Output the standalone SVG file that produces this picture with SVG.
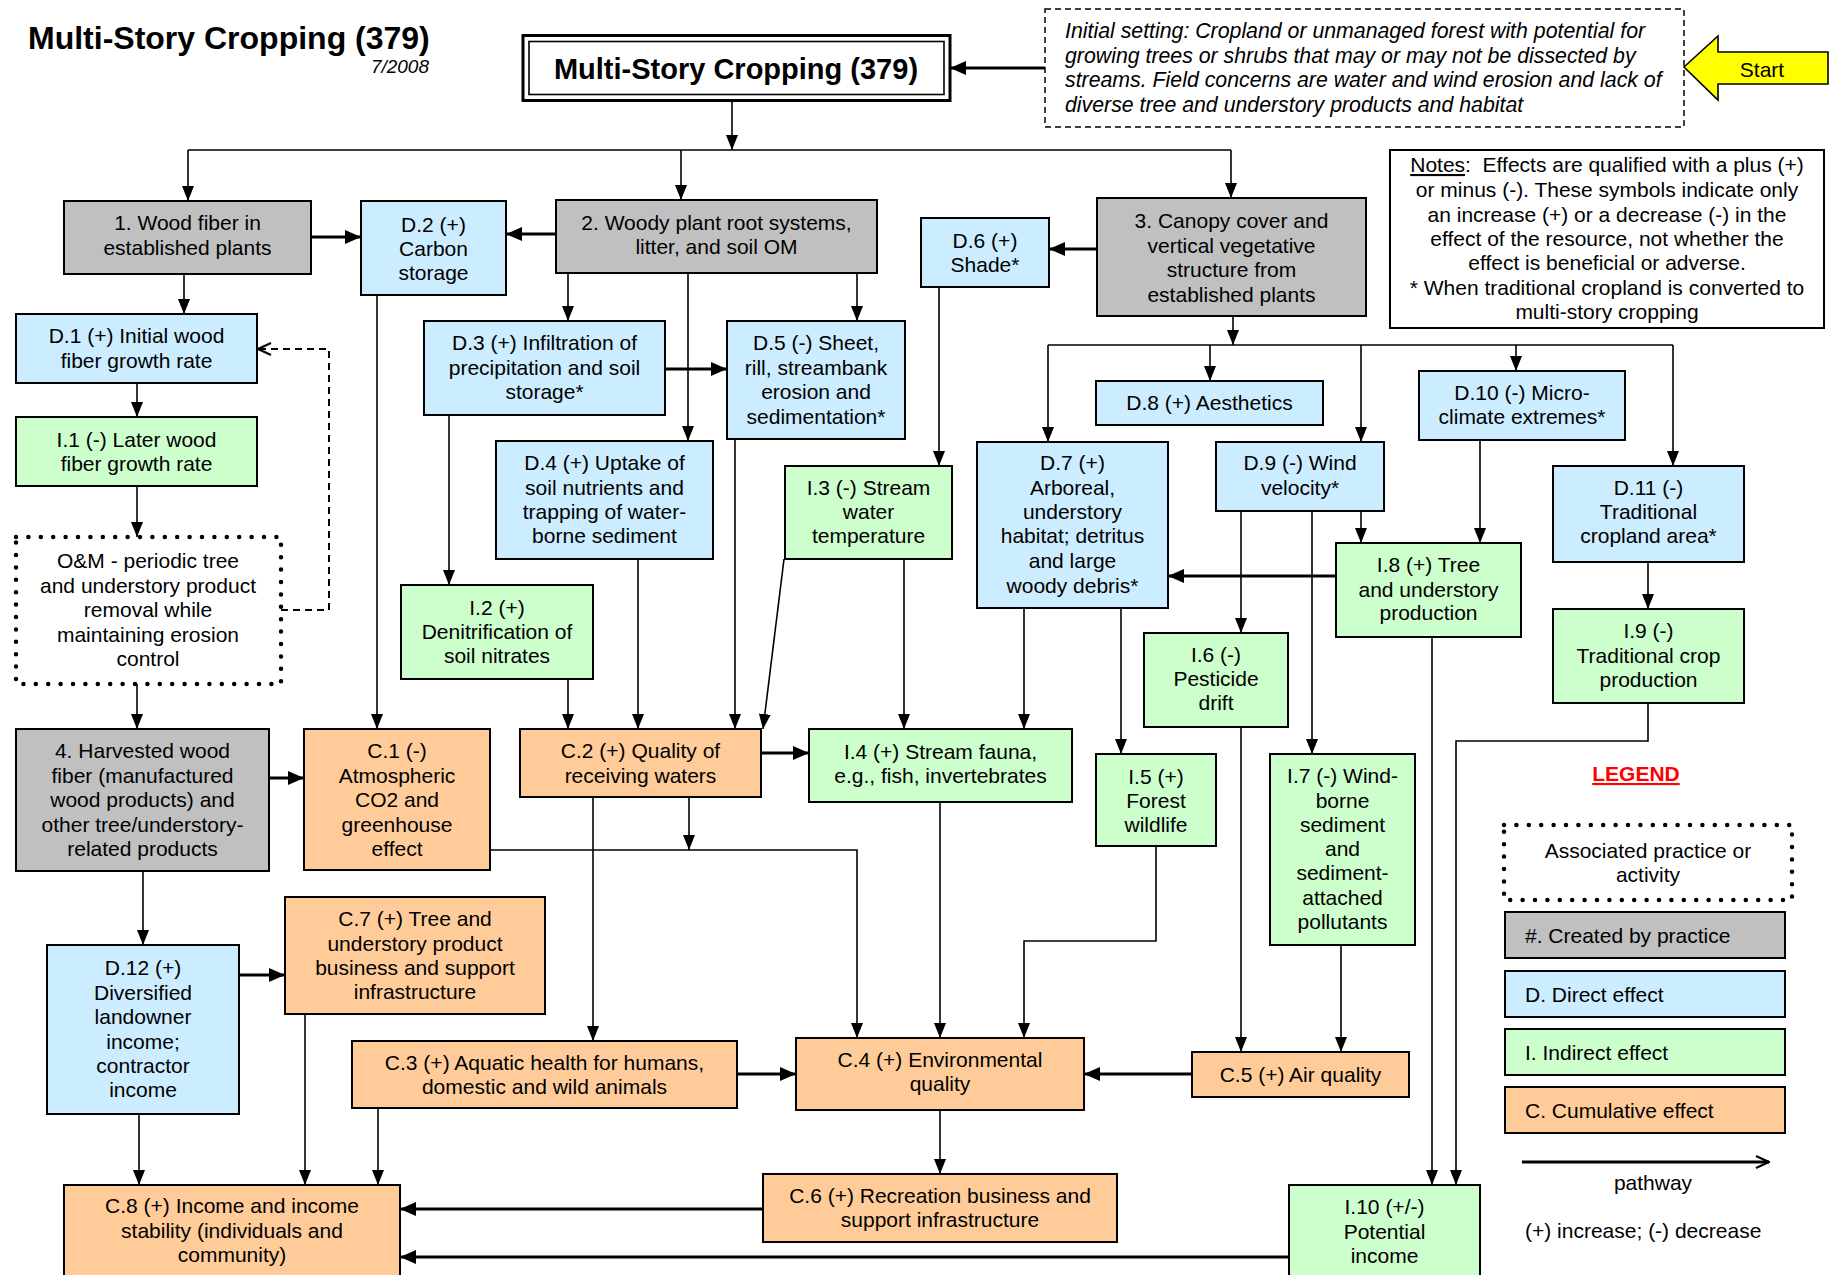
<svg xmlns="http://www.w3.org/2000/svg" width="1839" height="1275" viewBox="0 0 1839 1275">
<style>
text{font-family:"Liberation Sans",Arial,Helvetica,sans-serif;font-size:21px;fill:#000;text-anchor:middle}
.st{text-anchor:start}
.it{font-style:italic}
rect{stroke:#000;stroke-width:2}
.g{fill:#C0C0C0}.d{fill:#CCECFF}.i{fill:#CCFFCC}.c{fill:#FFCC99}.w{fill:#fff}
.dot{fill:#fff;stroke-width:4.5;stroke-dasharray:0 12.4;stroke-linecap:round}
#connectors path{fill:none;stroke:#000;stroke-width:1.6;marker-end:url(#ah)}
#connectors path.t{stroke-width:3.2;marker-end:url(#ahb)}
#connectors path.n{marker-end:none}
#connectors path.dash{stroke-width:2;stroke-dasharray:7 5;marker-end:url(#open)}
</style>
<defs>
<marker id="ah" markerUnits="userSpaceOnUse" viewBox="0 0 15 12" markerWidth="15" markerHeight="12" refX="15" refY="6" orient="auto"><path d="M0,0 L15,6 L0,12 z" fill="#000"/></marker>
<marker id="ahb" markerUnits="userSpaceOnUse" viewBox="0 0 16 14" markerWidth="16" markerHeight="14" refX="16" refY="7" orient="auto"><path d="M0,0 L16,7 L0,14 z" fill="#000"/></marker>
<marker id="open" markerUnits="userSpaceOnUse" viewBox="0 0 16 14" markerWidth="16" markerHeight="14" refX="15" refY="7" orient="auto"><path d="M2,1 L15,7 L2,13" fill="none" stroke="#000" stroke-width="2.2"/></marker>
</defs>
<rect x="0" y="0" width="1839" height="1275" style="fill:#fff;stroke:none"/>

<g id="title">
<text class="st" x="28" y="49" style="font-weight:bold;font-size:32px">Multi-Story Cropping (379)</text>
<text class="it" x="429" y="73" style="text-anchor:end;font-size:19px">7/2008</text>
</g>

<g id="connectors">
<path class="t" d="M1045,68 H950"/>
<path d="M732,101 V150"/>
<path class="n" d="M188,150 H1231"/>
<path d="M188,150 V201"/>
<path d="M681,150 V200"/>
<path d="M1231,150 V198"/>
<path class="t" d="M311,237 H361"/>
<path class="t" d="M556,234 H506"/>
<path class="t" d="M1097,249 H1049"/>
<path d="M184,274 V314"/>
<path d="M568,273 V321"/>
<path d="M857,273 V321"/>
<path d="M688,273 V441"/>
<path class="t" d="M665,369 H727"/>
<path d="M137,383 V417"/>
<path d="M137,486 V537"/>
<path class="dash" d="M281,610 H329 V349 H258"/>
<path d="M449,415 V585"/>
<path d="M939,287 V466"/>
<path d="M137,684 V729"/>
<path d="M377,295 V729"/>
<path class="t" d="M269,778 H304"/>
<path d="M568,679 V729"/>
<path d="M638,559 V729"/>
<path d="M735,439 V729"/>
<path d="M784,559 L763,729"/>
<path class="t" d="M761,753 H809"/>
<path d="M904,559 V729"/>
<path d="M1024,608 V729"/>
<path d="M1233,316 V345"/>
<path class="n" d="M1048,345 H1673"/>
<path d="M1048,345 V442"/>
<path d="M1210,345 V381"/>
<path d="M1361,345 V442"/>
<path d="M1516,345 V371"/>
<path d="M1673,345 V466"/>
<path d="M1361,511 V543"/>
<path d="M1480,440 V543"/>
<path class="t" d="M1336,576 H1168"/>
<path d="M1241,511 V633"/>
<path d="M1648,562 V609"/>
<path d="M1121,608 V754"/>
<path d="M1312,511 V754"/>
<path d="M940,802 V1038"/>
<path d="M1156,846 V941 H1024 V1038"/>
<path d="M490,850 H857 V1038"/>
<path d="M689,797 V850"/>
<path d="M1241,727 V1052"/>
<path d="M1341,945 V1052"/>
<path class="t" d="M1192,1074 H1084"/>
<path d="M143,871 V945"/>
<path class="t" d="M239,975 H285"/>
<path d="M593,797 V1041"/>
<path class="t" d="M737,1074 H796"/>
<path d="M139,1114 V1185"/>
<path d="M305,1014 V1185"/>
<path d="M378,1108 V1185"/>
<path d="M940,1110 V1174"/>
<path class="t" d="M763,1209 H400"/>
<path d="M1432,637 V1185"/>
<path d="M1648,703 V741 H1456 V1185"/>
<path class="t" d="M1289,1257 H400"/>
</g>

<g id="main">
<rect class="w" x="523" y="35.5" width="427" height="65" style="stroke-width:3"/>
<rect class="w" x="529" y="41.5" width="415" height="53" style="stroke-width:1.6"/>
<text x="736" y="79" style="font-weight:bold;font-size:29px">Multi-Story Cropping (379)</text>
</g>

<g id="setting">
<rect x="1045" y="9" width="639" height="118" style="fill:#fff;stroke-width:1.5;stroke-dasharray:6 4"/>
<text class="st it" x="1065" y="38" style="font-size:21.3px">Initial setting: Cropland or unmanaged forest with potential for</text>
<text class="st it" x="1065" y="62.5" style="font-size:21.3px">growing trees or shrubs that may or may not be dissected by</text>
<text class="st it" x="1065" y="87" style="font-size:21.3px">streams. Field concerns are water and wind erosion and lack of</text>
<text class="st it" x="1065" y="111.5" style="font-size:21.3px">diverse tree and understory products and habitat</text>
</g>

<g id="start">
<polygon points="1684,67 1718,36 1718,52 1828,52 1828,84 1718,84 1718,100" fill="#FFFF00" stroke="#000" stroke-width="1.6"/>
<text x="1762" y="77">Start</text>
</g>

<g id="notes">
<rect class="w" x="1390" y="150" width="434" height="178"/>
<text x="1607" y="172"><tspan text-decoration="underline">Notes</tspan>:&#160; Effects are qualified with a plus (+)</text>
<text x="1607" y="197">or minus (-). These symbols indicate only</text>
<text x="1607" y="222">an increase (+) or a decrease (-) in the</text>
<text x="1607" y="246">effect of the resource, not whether the</text>
<text x="1607" y="270">effect is beneficial or adverse.</text>
<text x="1607" y="295">* When traditional cropland is converted to</text>
<text x="1607" y="319">multi-story cropping</text>
</g>

<g id="n1"><rect class="g" x="64" y="201" width="247" height="73"/>
<text x="187.5" y="230">1. Wood fiber in</text><text x="187.5" y="255">established plants</text></g>

<g id="nD2"><rect class="d" x="361" y="201" width="145" height="94"/>
<text x="433.5" y="232">D.2 (+)</text><text x="433.5" y="256">Carbon</text><text x="433.5" y="280">storage</text></g>

<g id="n2"><rect class="g" x="556" y="200" width="321" height="73"/>
<text x="716.5" y="230">2. Woody plant root systems,</text><text x="716.5" y="254">litter, and soil OM</text></g>

<g id="n3"><rect class="g" x="1097" y="198" width="269" height="118"/>
<text x="1231.5" y="228">3. Canopy cover and</text><text x="1231.5" y="253">vertical vegetative</text><text x="1231.5" y="277">structure from</text><text x="1231.5" y="302">established plants</text></g>

<g id="nD6"><rect class="d" x="921" y="218" width="128" height="69"/>
<text x="985" y="248">D.6 (+)</text><text x="985" y="272">Shade*</text></g>

<g id="nD1"><rect class="d" x="16" y="314" width="241" height="69"/>
<text x="136.5" y="343">D.1 (+) Initial wood</text><text x="136.5" y="368">fiber growth rate</text></g>

<g id="nD3"><rect class="d" x="424" y="321" width="241" height="94"/>
<text x="544.5" y="350">D.3 (+) Infiltration of</text><text x="544.5" y="375">precipitation and soil</text><text x="544.5" y="399">storage*</text></g>

<g id="nD5"><rect class="d" x="727" y="321" width="178" height="118"/>
<text x="816" y="350">D.5 (-) Sheet,</text><text x="816" y="375">rill, streambank</text><text x="816" y="399">erosion and</text><text x="816" y="424">sedimentation*</text></g>

<g id="nD4"><rect class="d" x="496" y="441" width="217" height="118"/>
<text x="604.5" y="470">D.4 (+) Uptake of</text><text x="604.5" y="495">soil nutrients and</text><text x="604.5" y="519">trapping of water-</text><text x="604.5" y="543">borne sediment</text></g>

<g id="nI1"><rect class="i" x="16" y="417" width="241" height="69"/>
<text x="136.5" y="447">I.1 (-) Later wood</text><text x="136.5" y="471">fiber growth rate</text></g>

<g id="nOM"><rect class="dot" x="16" y="537" width="265" height="147"/>
<text x="148" y="568">O&amp;M - periodic tree</text><text x="148" y="593">and understory product</text><text x="148" y="617">removal while</text><text x="148" y="642">maintaining erosion</text><text x="148" y="666">control</text></g>

<g id="nI2"><rect class="i" x="401" y="585" width="192" height="94"/>
<text x="497" y="615">I.2 (+)</text><text x="497" y="639">Denitrification of</text><text x="497" y="663">soil nitrates</text></g>

<g id="nI3"><rect class="i" x="785" y="466" width="167" height="93"/>
<text x="868.5" y="495">I.3 (-) Stream</text><text x="868.5" y="519">water</text><text x="868.5" y="543">temperature</text></g>

<g id="n4"><rect class="g" x="16" y="729" width="253" height="142"/>
<text x="142.5" y="758">4. Harvested wood</text><text x="142.5" y="783">fiber (manufactured</text><text x="142.5" y="807">wood products) and</text><text x="142.5" y="832">other tree/understory-</text><text x="142.5" y="856">related products</text></g>

<g id="nC1"><rect class="c" x="304" y="729" width="186" height="141"/>
<text x="397" y="758">C.1 (-)</text><text x="397" y="783">Atmospheric</text><text x="397" y="807">CO2 and</text><text x="397" y="832">greenhouse</text><text x="397" y="856">effect</text></g>

<g id="nC2"><rect class="c" x="520" y="729" width="241" height="68"/>
<text x="640.5" y="758">C.2 (+) Quality of</text><text x="640.5" y="783">receiving waters</text></g>

<g id="nI4"><rect class="i" x="809" y="729" width="263" height="73"/>
<text x="940.5" y="759">I.4 (+) Stream fauna,</text><text x="940.5" y="783">e.g., fish, invertebrates</text></g>

<g id="nD8"><rect class="d" x="1096" y="381" width="227" height="44"/>
<text x="1209.5" y="410">D.8 (+) Aesthetics</text></g>

<g id="nD7"><rect class="d" x="977" y="442" width="191" height="166"/>
<text x="1072.5" y="470">D.7 (+)</text><text x="1072.5" y="495">Arboreal,</text><text x="1072.5" y="519">understory</text><text x="1072.5" y="543">habitat; detritus</text><text x="1072.5" y="568">and large</text><text x="1072.5" y="593">woody debris*</text></g>

<g id="nD9"><rect class="d" x="1216" y="442" width="168" height="69"/>
<text x="1300" y="470">D.9 (-) Wind</text><text x="1300" y="495">velocity*</text></g>

<g id="nD10"><rect class="d" x="1419" y="371" width="206" height="69"/>
<text x="1522" y="400">D.10 (-) Micro-</text><text x="1522" y="424">climate extremes*</text></g>

<g id="nD11"><rect class="d" x="1553" y="466" width="191" height="96"/>
<text x="1648.5" y="495">D.11 (-)</text><text x="1648.5" y="519">Traditional</text><text x="1648.5" y="543">cropland area*</text></g>

<g id="nI8"><rect class="i" x="1336" y="543" width="185" height="94"/>
<text x="1428.5" y="572">I.8 (+) Tree</text><text x="1428.5" y="597">and understory</text><text x="1428.5" y="620">production</text></g>

<g id="nI6"><rect class="i" x="1144" y="633" width="144" height="94"/>
<text x="1216" y="662">I.6 (-)</text><text x="1216" y="686">Pesticide</text><text x="1216" y="710">drift</text></g>

<g id="nI9"><rect class="i" x="1553" y="609" width="191" height="94"/>
<text x="1648.5" y="638">I.9 (-)</text><text x="1648.5" y="663">Traditional crop</text><text x="1648.5" y="687">production</text></g>

<g id="nI5"><rect class="i" x="1096" y="754" width="120" height="92"/>
<text x="1156" y="784">I.5 (+)</text><text x="1156" y="808">Forest</text><text x="1156" y="832">wildlife</text></g>

<g id="nI7"><rect class="i" x="1270" y="754" width="145" height="191"/>
<text x="1342.5" y="783">I.7 (-) Wind-</text><text x="1342.5" y="808">borne</text><text x="1342.5" y="832">sediment</text><text x="1342.5" y="856">and</text><text x="1342.5" y="880">sediment-</text><text x="1342.5" y="905">attached</text><text x="1342.5" y="929">pollutants</text></g>

<g id="nC4"><rect class="c" x="796" y="1038" width="288" height="72"/>
<text x="940" y="1067">C.4 (+) Environmental</text><text x="940" y="1091">quality</text></g>

<g id="nC5"><rect class="c" x="1192" y="1052" width="217" height="45"/>
<text x="1300.5" y="1082">C.5 (+) Air quality</text></g>

<g id="nD12"><rect class="d" x="47" y="945" width="192" height="169"/>
<text x="143" y="975">D.12 (+)</text><text x="143" y="1000">Diversified</text><text x="143" y="1024">landowner</text><text x="143" y="1049">income;</text><text x="143" y="1073">contractor</text><text x="143" y="1097">income</text></g>

<g id="nC7"><rect class="c" x="285" y="897" width="260" height="117"/>
<text x="415" y="926">C.7 (+) Tree and</text><text x="415" y="951">understory product</text><text x="415" y="975">business and support</text><text x="415" y="999">infrastructure</text></g>

<g id="nC3"><rect class="c" x="352" y="1041" width="385" height="67"/>
<text x="544.5" y="1070">C.3 (+) Aquatic health for humans,</text><text x="544.5" y="1094">domestic and wild animals</text></g>

<g id="nC8"><rect class="c" x="64" y="1185" width="336" height="100"/>
<text x="232" y="1213">C.8 (+) Income and income</text><text x="232" y="1238">stability (individuals and</text><text x="232" y="1262">community)</text></g>

<g id="nC6"><rect class="c" x="763" y="1174" width="354" height="68"/>
<text x="940" y="1203">C.6 (+) Recreation business and</text><text x="940" y="1227">support infrastructure</text></g>

<g id="nI10"><rect class="i" x="1289" y="1185" width="191" height="100"/>
<text x="1384.5" y="1214">I.10 (+/-)</text><text x="1384.5" y="1239">Potential</text><text x="1384.5" y="1263">income</text></g>

<g id="legend">
<text x="1636" y="781" style="font-weight:bold;fill:#FF0000" text-decoration="underline">LEGEND</text>
<rect class="dot" x="1504" y="825" width="288" height="75"/>
<text x="1648" y="858">Associated practice or</text><text x="1648" y="882">activity</text>
<rect class="g" x="1505" y="912" width="280" height="46"/>
<text class="st" x="1525" y="943">#. Created by practice</text>
<rect class="d" x="1505" y="971" width="280" height="46"/>
<text class="st" x="1525" y="1002">D. Direct effect</text>
<rect class="i" x="1505" y="1029" width="280" height="46"/>
<text class="st" x="1525" y="1060">I. Indirect effect</text>
<rect class="c" x="1505" y="1087" width="280" height="46"/>
<text class="st" x="1525" y="1118">C. Cumulative effect</text>
<path d="M1522,1162 H1769" stroke="#000" stroke-width="3" fill="none" marker-end="url(#open)"/>
<text x="1653" y="1190">pathway</text>
<text class="st" x="1525" y="1238">(+) increase; (-) decrease</text>
</g>
</svg>
